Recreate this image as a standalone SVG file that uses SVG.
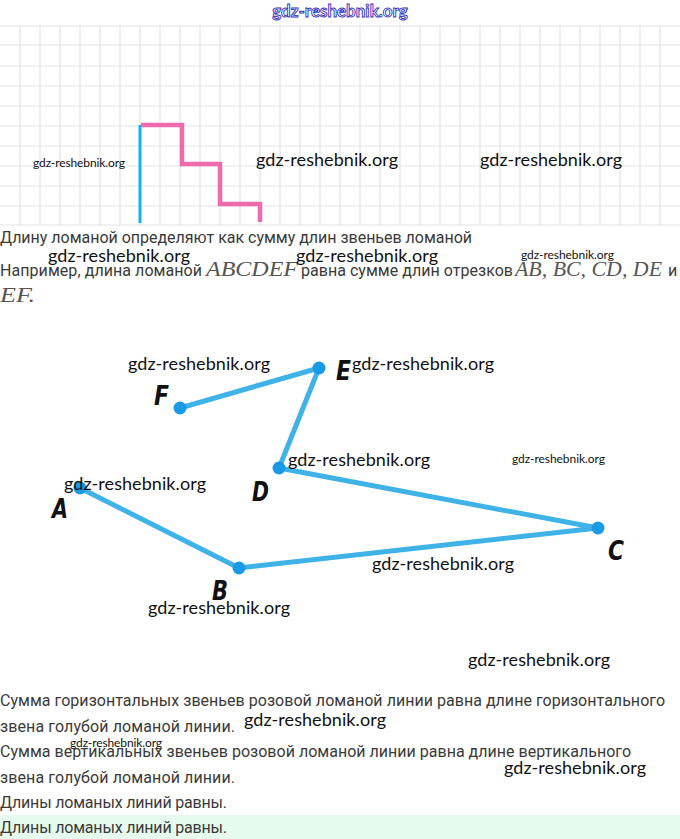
<svg xmlns="http://www.w3.org/2000/svg" width="680" height="839" viewBox="0 0 680 839">
<style>
.wm{font-family:Lato,"Noto Sans",sans-serif;fill:#111}
.wl{font-size:18px}
.ws{font-size:12px}
.body{font-family:Roboto,"Noto Sans",sans-serif;font-size:16px;fill:#3a3a3a}
.math{font-family:"Liberation Serif",serif;font-style:italic;font-size:20px;fill:#555}
.lbl{font-family:"DejaVu Sans",sans-serif;font-weight:bold;font-style:italic;font-size:27px;fill:#111}
.seg{fill:none;stroke:#3fb2e8;stroke-width:5;stroke-linejoin:round}
.pt{fill:#1a9ae6}
.grid line{stroke:#e3e3e3;stroke-width:1.2}
</style>
<rect width="680" height="839" fill="#fff"/>
<g class="grid" id="grid">
<line x1="0" y1="26" x2="680" y2="26"/><line x1="0" y1="45" x2="680" y2="45"/><line x1="0" y1="66" x2="680" y2="66"/><line x1="0" y1="86" x2="680" y2="86"/><line x1="0" y1="106" x2="680" y2="106"/><line x1="0" y1="126" x2="680" y2="126"/><line x1="0" y1="146" x2="680" y2="146"/><line x1="0" y1="166" x2="680" y2="166"/><line x1="0" y1="186" x2="680" y2="186"/><line x1="0" y1="206" x2="680" y2="206"/><line x1="0" y1="225" x2="680" y2="225"/>
<line x1="20" y1="26" x2="20" y2="225"/><line x1="40" y1="26" x2="40" y2="225"/><line x1="60" y1="26" x2="60" y2="225"/><line x1="80" y1="26" x2="80" y2="225"/><line x1="100" y1="26" x2="100" y2="225"/><line x1="120" y1="26" x2="120" y2="225"/><line x1="140" y1="26" x2="140" y2="225"/><line x1="160" y1="26" x2="160" y2="225"/><line x1="180" y1="26" x2="180" y2="225"/><line x1="200" y1="26" x2="200" y2="225"/><line x1="220" y1="26" x2="220" y2="225"/><line x1="240" y1="26" x2="240" y2="225"/><line x1="260" y1="26" x2="260" y2="225"/><line x1="280" y1="26" x2="280" y2="225"/><line x1="300" y1="26" x2="300" y2="225"/><line x1="320" y1="26" x2="320" y2="225"/><line x1="340" y1="26" x2="340" y2="225"/><line x1="360" y1="26" x2="360" y2="225"/><line x1="380" y1="26" x2="380" y2="225"/><line x1="400" y1="26" x2="400" y2="225"/><line x1="420" y1="26" x2="420" y2="225"/><line x1="440" y1="26" x2="440" y2="225"/><line x1="460" y1="26" x2="460" y2="225"/><line x1="480" y1="26" x2="480" y2="225"/><line x1="500" y1="26" x2="500" y2="225"/><line x1="520" y1="26" x2="520" y2="225"/><line x1="540" y1="26" x2="540" y2="225"/><line x1="560" y1="26" x2="560" y2="225"/><line x1="580" y1="26" x2="580" y2="225"/><line x1="600" y1="26" x2="600" y2="225"/><line x1="620" y1="26" x2="620" y2="225"/><line x1="640" y1="26" x2="640" y2="225"/><line x1="660" y1="26" x2="660" y2="225"/>
</g>
<g id="stairs">
<polyline points="141,125 182,125 182,164 220,164 220,204 260,204 260,222" fill="none" stroke="#f06aae" stroke-width="4.5"/>
<line x1="140" y1="125" x2="140" y2="223" stroke="#14b4ea" stroke-width="3"/>
</g>
<g id="connectors">
<polyline class="seg" points="180,408 319,368 279,468 598,528 239,568 80,488"/>
</g>
<g id="node-A"><circle class="pt" cx="80" cy="488" r="6.5"/><text class="lbl" x="52" y="518" textLength="16" lengthAdjust="spacingAndGlyphs">A</text></g>
<g id="node-B"><circle class="pt" cx="239" cy="568" r="6.5"/><text class="lbl" x="212" y="600" textLength="16" lengthAdjust="spacingAndGlyphs">B</text></g>
<g id="node-C"><circle class="pt" cx="598" cy="528" r="6.5"/><text class="lbl" x="608" y="560" textLength="16" lengthAdjust="spacingAndGlyphs">C</text></g>
<g id="node-D"><circle class="pt" cx="279" cy="468" r="6.5"/><text class="lbl" x="252" y="501" textLength="17" lengthAdjust="spacingAndGlyphs">D</text></g>
<g id="node-E"><circle class="pt" cx="319" cy="368" r="6.5"/><text class="lbl" x="336" y="380" textLength="15" lengthAdjust="spacingAndGlyphs">E</text></g>
<g id="node-F"><circle class="pt" cx="180" cy="408" r="6.5"/><text class="lbl" x="154" y="405" textLength="15" lengthAdjust="spacingAndGlyphs">F</text></g>
<g id="text">
<text class="body" x="0" y="243" textLength="472">Длину ломаной определяют как сумму длин звеньев ломаной</text>
<text class="body" x="0" y="276" textLength="202">Например, длина ломаной</text>
<text class="math" x="206" y="276" textLength="92" lengthAdjust="spacingAndGlyphs">ABCDEF</text>
<text class="body" x="301" y="276" textLength="212">равна сумме длин отрезков</text>
<text class="math" x="515" y="276" textLength="147" lengthAdjust="spacingAndGlyphs">AB, BC, CD, DE</text>
<text class="body" x="668" y="276">и</text>
<text class="math" x="0" y="302" textLength="35" lengthAdjust="spacingAndGlyphs">EF.</text>
<text class="body" x="0" y="706" textLength="665">Сумма горизонтальных звеньев розовой ломаной линии равна длине горизонтального</text>
<text class="body" x="0" y="732" textLength="235">звена голубой ломаной линии.</text>
<text class="body" x="0" y="757" textLength="631">Сумма вертикальных звеньев розовой ломаной линии равна длине вертикального</text>
<text class="body" x="0" y="783" textLength="235">звена голубой ломаной линии.</text>
<text class="body" x="0" y="808" textLength="227">Длины ломаных линий равны.</text>
<rect x="0" y="815" width="680" height="24" fill="#e6fbee"/>
<text class="body" x="0" y="833" textLength="227">Длины ломаных линий равны.</text>
</g>
<g id="watermarks">
<text x="340" y="17" text-anchor="middle" font-family="Lato,sans-serif" font-weight="bold" font-size="17" fill="#fff" stroke="#3030c0" stroke-width="0.9">gdz-reshebnik.org</text>
<text class="wm ws" x="33" y="167" textLength="92">gdz-reshebnik.org</text>
<text class="wm wl" x="256" y="166" textLength="142">gdz-reshebnik.org</text>
<text class="wm wl" x="480" y="166" textLength="142">gdz-reshebnik.org</text>
<text class="wm wl" x="48" y="262" textLength="142">gdz-reshebnik.org</text>
<text class="wm wl" x="296" y="262" textLength="142">gdz-reshebnik.org</text>
<text class="wm ws" x="521" y="259" textLength="93">gdz-reshebnik.org</text>
<text class="wm wl" x="128" y="370" textLength="142">gdz-reshebnik.org</text>
<text class="wm wl" x="352" y="370" textLength="142">gdz-reshebnik.org</text>
<text class="wm wl" x="288" y="466" textLength="142">gdz-reshebnik.org</text>
<text class="wm ws" x="512" y="463" textLength="93">gdz-reshebnik.org</text>
<text class="wm wl" x="64" y="490" textLength="142">gdz-reshebnik.org</text>
<text class="wm wl" x="372" y="570" textLength="142">gdz-reshebnik.org</text>
<text class="wm wl" x="148" y="614" textLength="142">gdz-reshebnik.org</text>
<text class="wm wl" x="468" y="666" textLength="142">gdz-reshebnik.org</text>
<text class="wm wl" x="244" y="726" textLength="142">gdz-reshebnik.org</text>
<text class="wm ws" x="70" y="747" textLength="92">gdz-reshebnik.org</text>
<text class="wm wl" x="504" y="774" textLength="142">gdz-reshebnik.org</text>
</g>
</svg>
